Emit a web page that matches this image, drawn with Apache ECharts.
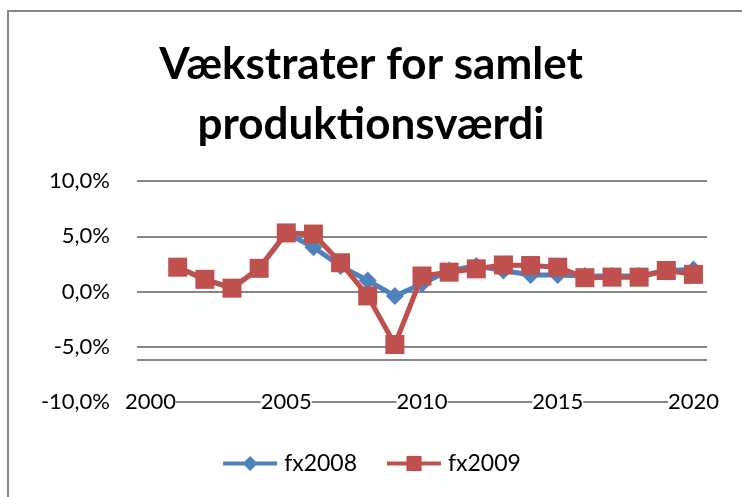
<!DOCTYPE html>
<html>
<head>
<meta charset="utf-8">
<script src="https://cdn.jsdelivr.net/npm/echarts@6/dist/echarts.min.js"></script>
<style>
  html, body { margin: 0; padding: 0; background: #fff; }
  #chart { width: 742px; height: 497px; }
</style>
</head>
<body>
<div id="chart"></div>
<script>
// data, growth rates in percent
const years = ['2000', '2001', '2002', '2003', '2004', '2005', '2006', '2007', '2008', '2009', '2010',
               '2011', '2012', '2013', '2014', '2015', '2016', '2017', '2018', '2019', '2020'];
const fx2008 = [null, 2.2, 1.1, 0.3, 2.1, 5.3, 4.0, 2.3, 1.0, -0.4, 0.7,
                1.9, 2.3, 1.9, 1.5, 1.5, 1.4, 1.4, 1.4, 1.9, 2.0];
const fx2009 = [null, 2.2, 1.1, 0.3, 2.1, 5.3, 5.2, 2.6, -0.4, -4.8, 1.4,
                1.75, 2.05, 2.4, 2.35, 2.2, 1.25, 1.3, 1.3, 1.9, 1.55];
const yTicks = { min: -10, max: 10, step: 5 };

const font = 'Lato, "Open Sans", sans-serif';
const pct = v => v.toFixed(1).replace('.', ',') + '%';

const chart = echarts.init(document.getElementById('chart'));
chart.setOption({
    animation: false,
    backgroundColor: '#fff',
    textStyle: { fontFamily: font },
    graphic: [{
        type: 'rect',
        shape: { x: 8, y: 11, width: 900, height: 700 },
        style: { fill: 'none', stroke: '#888', lineWidth: 2 },
        z: 0
    }],
    title: {
        text: 'Vækstrater for samlet\nproduktionsværdi',
        left: 'center',
        top: 30,
        textStyle: { fontSize: 44, fontWeight: 'bold', color: '#000', lineHeight: 60, fontFamily: font }
    },
    legend: {
        bottom: 17,
        left: 'center',
        itemWidth: 54,
        itemHeight: 19,
        itemGap: 28,
        lineStyle: { width: 4 },
        textStyle: { fontSize: 23, color: '#000', fontFamily: font, padding: [0, 0, 0, 2] }
    },
    grid: { left: 137, right: 35, top: 181, bottom: 95 },
    xAxis: {
        type: 'category',
        data: years,
        boundaryGap: true,
        axisLine: { show: false },
        axisTick: { show: false },
        axisLabel: {
            interval: 4,
            margin: 0,
            verticalAlign: 'middle',
            fontSize: 22,
            color: '#000',
            backgroundColor: '#fff'
        },
        splitLine: { show: false }
    },
    yAxis: {
        type: 'value',
        min: yTicks.min,
        max: yTicks.max,
        interval: yTicks.step,
        axisLine: { show: false },
        axisTick: { show: false },
        axisLabel: { formatter: pct, margin: 27, fontSize: 22, color: '#000' },
        splitLine: { lineStyle: { color: '#868686', width: 2 } }
    },
    series: [{
        name: 'fx2008',
        type: 'line',
        data: fx2008,
        symbol: 'diamond',
        symbolSize: 18,
        showAllSymbol: true,
        itemStyle: { color: '#4F81BD' },
        lineStyle: { color: '#4F81BD', width: 5 },
        z: 2,
        markLine: {
            silent: true,
            symbol: 'none',
            label: { show: false },
            lineStyle: { color: '#868686', width: 2, type: 'solid' },
            data: [{ yAxis: -6.15 }]
        }
    }, {
        name: 'fx2009',
        type: 'line',
        data: fx2009,
        symbol: 'rect',
        symbolSize: 19,
        showAllSymbol: true,
        itemStyle: { color: '#C0504D' },
        lineStyle: { color: '#C0504D', width: 5 },
        z: 3
    }]
});
</script>
</body>
</html>
